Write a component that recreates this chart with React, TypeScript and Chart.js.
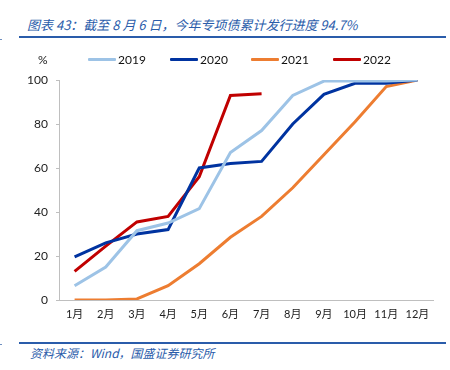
import React, { useEffect, useRef } from "react";
import { Chart, registerables } from "chart.js";

Chart.register(...registerables);

const months = ["1月", "2月", "3月", "4月", "5月", "6月", "7月", "8月", "9月", "10月", "11月", "12月"];
const s2019 = [6.5, 15, 31.5, 35, 41.5, 67, 77, 93, 99.5, 99.5, 99.5, 100];
const s2020 = [19.6, 26, 30, 32, 60, 62, 63, 80, 93.5, 98.5, 98.5, 100];
const s2021 = [0, 0, 0.5, 6.5, 16.5, 28.5, 38, 51, 66, 81, 97, 100];
const s2022 = [13, 24.5, 35.5, 38, 56, 93, 93.7];
const seriesNames = ["2019", "2020", "2021", "2022"];
const seriesColors = ["#9DC3E6", "#0033A0", "#ED7D31", "#C00000"];
const yTicks = [0, 20, 40, 60, 80, 100];

const FONT = "Lato, 'Noto Sans CJK SC', sans-serif";
const CJK = "'Noto Sans CJK SC', 'Noto Sans', sans-serif";

export default function App() {
  const ref = useRef<HTMLCanvasElement | null>(null);

  useEffect(() => {
    if (!ref.current) return;
    const data = [s2019, s2020, s2021, s2022];
    const chart = new Chart(ref.current, {
      type: "line",
      data: {
        labels: months,
        datasets: seriesNames.map((n, i) => ({
          label: n,
          data: data[i],
          borderColor: seriesColors[i],
          backgroundColor: seriesColors[i],
          borderWidth: 3,
          pointRadius: 0,
          tension: 0,
          fill: false,
        })),
      },
      options: {
        animation: false,
        responsive: false,
        maintainAspectRatio: false,
        layout: { padding: { top: 40, right: 17, left: 0, bottom: 0 } },
        plugins: { legend: { display: false }, tooltip: { enabled: false } },
        scales: {
          x: {
            offset: true,
            grid: { display: false, offset: true },
            border: { display: true, color: "#BFBFBF", width: 1 },
            ticks: { color: "#222", font: { family: FONT, size: 11 }, padding: 0, maxRotation: 0, autoSkip: false },
            afterFit: (s: any) => { s.height = 40; },
          },
          y: {
            min: 0,
            max: 100,
            afterBuildTicks: (s: any) => { s.ticks = yTicks.map((v) => ({ value: v })); },
            grid: { display: true, drawOnChartArea: false, tickLength: 3, color: "#BFBFBF" },
            border: { display: true, color: "#BFBFBF", width: 1 },
            ticks: { color: "#222", font: { family: FONT, size: 12 }, padding: 8 },
            afterFit: (s: any) => { s.width = 59; },
          },
        },
      },
    });
    return () => chart.destroy();
  }, []);

  const legendX = [88, 170, 251, 333];

  return (
    <div style={{ position: "absolute", left: 0, top: 0, width: 450, height: 370, background: "#fff", overflow: "hidden" }}>
      <div style={{ position: "absolute", left: 27, top: 15, fontFamily: CJK, fontStyle: "italic", fontSize: 13, color: "#2A5CAA", whiteSpace: "nowrap" }}>
        图表 43：截至 8 月 6 日，今年专项债累计发行进度 94.7%
      </div>
      <div style={{ position: "absolute", left: 19, top: 36, width: 427, height: 2, background: "#2A5CAA" }} />
      <div style={{ position: "absolute", left: 0, top: 39, width: 2, height: 1, background: "#6F8FC0" }} />
      <canvas ref={ref} width={450} height={300} style={{ position: "absolute", left: 0, top: 40, width: 450, height: 300 }} />
      <div style={{ position: "absolute", left: 38, top: 52, fontFamily: FONT, fontSize: 12, color: "#222" }}>%</div>
      {seriesNames.map((n, i) => (
        <div key={n} style={{ position: "absolute", left: legendX[i], top: 50, height: 18, display: "flex", alignItems: "center" }}>
          <div style={{ width: 28, height: 3, background: seriesColors[i], borderRadius: 1 }} />
          <span style={{ marginLeft: 2, fontFamily: FONT, fontSize: 12, color: "#111" }}>{n}</span>
        </div>
      ))}
      <div style={{ position: "absolute", left: 19, top: 342, width: 427, height: 2, background: "#2A5CAA" }} />
      <div style={{ position: "absolute", left: 0, top: 344, width: 2, height: 1, background: "#6F8FC0" }} />
      <div style={{ position: "absolute", left: 30, top: 344, fontFamily: CJK, fontStyle: "italic", fontSize: 12, color: "#2A5CAA", whiteSpace: "nowrap" }}>
        资料来源：Wind，国盛证券研究所
      </div>
    </div>
  );
}
